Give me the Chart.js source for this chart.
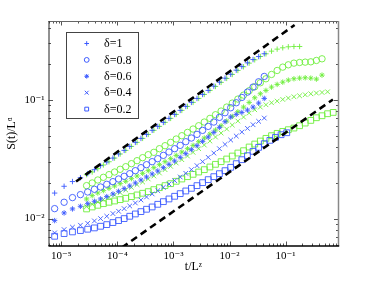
<!DOCTYPE html>
<html>
<head>
<meta charset="utf-8">
<script src="https://cdn.jsdelivr.net/npm/chart.js@4.4.0/dist/chart.umd.min.js"></script>
<style>
  html, body { margin: 0; padding: 0; background: #fff; }
  #wrap { width: 374px; height: 281px; position: relative; }
</style>
</head>
<body>
<div id="wrap"><canvas id="growthChart"></canvas></div>
<script>
Chart.defaults.font.family = '"Liberation Serif", "DejaVu Serif", serif';
Chart.defaults.color = '#000';

// t/L^z for the blue run and the green run
const tBlue = [7.59e-6, 1.12e-5, 1.58e-5, 2.19e-5, 2.95e-5, 3.89e-5, 5.01e-5, 6.46e-5, 8.32e-5, 1.05e-4,
    1.32e-4, 1.66e-4, 2.09e-4, 2.63e-4, 3.31e-4, 4.17e-4, 5.25e-4, 6.61e-4, 8.32e-4, 1.05e-3,
    1.32e-3, 1.66e-3, 2.09e-3, 2.63e-3, 3.31e-3, 4.17e-3, 5.25e-3, 6.61e-3, 8.32e-3, 1.05e-2,
    1.32e-2, 1.66e-2, 2.09e-2, 2.63e-2, 3.31e-2, 4.17e-2, 5.25e-2, 6.61e-2, 8.32e-2, 0.105];
const tGreen = [2.82e-5, 3.55e-5, 4.47e-5, 5.62e-5, 7.08e-5, 8.91e-5, 1.12e-4, 1.41e-4, 1.78e-4, 2.24e-4,
    2.82e-4, 3.55e-4, 4.47e-4, 5.62e-4, 7.08e-4, 8.91e-4, 1.12e-3, 1.41e-3, 1.78e-3, 2.24e-3,
    2.82e-3, 3.55e-3, 4.47e-3, 5.62e-3, 7.08e-3, 8.91e-3, 1.12e-2, 1.41e-2, 1.78e-2, 2.24e-2,
    2.82e-2, 3.55e-2, 4.47e-2, 5.62e-2, 7.08e-2, 8.91e-2, 0.112, 0.141, 0.178, 0.224,
    0.282, 0.355, 0.447, 0.562, 0.708];

// S(t)/L^alpha, blue markers
const sBlue1 = [0.0164, 0.0187, 0.0205, 0.0221, 0.0239, 0.0258, 0.0279, 0.0299, 0.0323, 0.0350,
    0.0375, 0.0405, 0.0438, 0.0473, 0.0511, 0.0553, 0.0597, 0.0645, 0.0697, 0.0753,
    0.0814, 0.0879, 0.0950, 0.1026, 0.1109, 0.1198, 0.1302, 0.1407, 0.152, 0.164,
    0.1775, 0.1906, 0.2046, 0.218, 0.231, 0.244];
const sBlue08 = [0.01213, 0.01372, 0.01502, 0.01591, 0.01675, 0.01764, 0.01845, 0.01943, 0.02046, 0.02154,
    0.02268, 0.02388, 0.02531, 0.02683, 0.02843, 0.03013, 0.03192, 0.03405, 0.03633, 0.03875,
    0.04133, 0.04436, 0.04764, 0.05113, 0.05525, 0.0597, 0.06492, 0.07107, 0.07777, 0.08564,
    0.09436, 0.1046, 0.116, 0.1278, 0.1417, 0.1571];
const sBlue06 = [0.00962, 0.01116, 0.01206, 0.01269, 0.01336, 0.01398, 0.01463, 0.01531, 0.01612, 0.01697,
    0.01787, 0.01882, 0.01994, 0.02113, 0.02239, 0.02373, 0.02515, 0.02683, 0.02862, 0.03052,
    0.03277, 0.03518, 0.03801, 0.04106, 0.04466, 0.04856, 0.05314, 0.05855, 0.06534, 0.07151,
    0.07531, 0.07824, 0.08188, 0.08677, 0.09375, 0.1026];
const sBlue04 = [0.00758, 0.00808, 0.00846, 0.00879, 0.00913, 0.00956, 0.0100, 0.01046, 0.01102, 0.01152,
    0.01213, 0.01277, 0.01354, 0.01435, 0.01521, 0.01612, 0.01719, 0.01833, 0.01956, 0.02087,
    0.02239, 0.02404, 0.02581, 0.02789, 0.03013, 0.03277, 0.03563, 0.03875, 0.04212, 0.04582,
    0.04951, 0.05349, 0.05742, 0.06166, 0.06577, 0.07014];
const sBlue02 = [0.0071, 0.00748, 0.00773, 0.00793, 0.00814, 0.00835, 0.00862, 0.0089, 0.00926, 0.00962,
    0.0100, 0.01046, 0.01094, 0.01145, 0.01198, 0.01253, 0.01319, 0.01389, 0.01463, 0.01541,
    0.01622, 0.01708, 0.01798, 0.01894, 0.02007, 0.02127, 0.02254, 0.02388, 0.02531, 0.02701,
    0.02899, 0.03132, 0.03383, 0.0368, 0.03976, 0.04268, 0.04552, 0.04826, 0.05081, 0.0528];

// S(t)/L^alpha, green markers
const sGreen1 = [0.02343, 0.02466, 0.0263, 0.02825, 0.0301, 0.0323, 0.03495, 0.0375, 0.0405, 0.0438,
    0.0473, 0.0511, 0.0553, 0.0597, 0.0645, 0.0697, 0.0753, 0.0814, 0.0879, 0.0950,
    0.1026, 0.1109, 0.1198, 0.1294, 0.140, 0.1511, 0.1633, 0.1764, 0.1895, 0.2032,
    0.2168, 0.2313, 0.2436, 0.2565, 0.2667, 0.2737, 0.2791, 0.2806, 0.2806];
const sGreen08 = [0.01894, 0.01994, 0.02113, 0.02225, 0.02343, 0.02466, 0.02598, 0.02735, 0.02899, 0.03072,
    0.03256, 0.0345, 0.0361, 0.03875, 0.04106, 0.0438, 0.04672, 0.04983, 0.05314, 0.0567,
    0.06047, 0.06492, 0.06969, 0.07482, 0.08032, 0.08677, 0.09375, 0.1013, 0.1094, 0.119,
    0.1286, 0.139, 0.1502, 0.1633, 0.1764, 0.1882, 0.1968, 0.2033, 0.2059, 0.2073,
    0.2086, 0.2141, 0.2211];
const sGreen06 = [0.01463, 0.01561, 0.01643, 0.01719, 0.01798, 0.01882, 0.01968, 0.0206, 0.02168, 0.02283,
    0.02404, 0.02531, 0.02683, 0.02843, 0.03013, 0.03192, 0.03405, 0.03633, 0.03875, 0.04133,
    0.04436, 0.04764, 0.05147, 0.05561, 0.06047, 0.06619, 0.07244, 0.07929, 0.08677, 0.09497,
    0.1039, 0.1123, 0.1198, 0.1278, 0.1346, 0.1407, 0.1463, 0.1502, 0.152, 0.1531,
    0.152, 0.1492, 0.1612];
const sGreen04 = [0.01261, 0.01319, 0.0138, 0.01444, 0.01511, 0.01581, 0.01654, 0.01741, 0.01833, 0.01931,
    0.02033, 0.02154, 0.02283, 0.02419, 0.02581, 0.02753, 0.02937, 0.03132, 0.03361, 0.0361,
    0.03875, 0.04159, 0.04494, 0.04856, 0.05247, 0.0567, 0.06127, 0.06619, 0.07151, 0.07727,
    0.08241, 0.08677, 0.09078, 0.09436, 0.09745, 0.1006, 0.1033, 0.106, 0.108, 0.1102,
    0.1123, 0.1138, 0.1152, 0.1167];
const sGreen02 = [0.01206, 0.01253, 0.01294, 0.01336, 0.01372, 0.01407, 0.01444, 0.01482, 0.01531, 0.01581,
    0.01633, 0.01686, 0.01753, 0.01821, 0.01894, 0.01968, 0.0206, 0.02154, 0.02254, 0.02358,
    0.02466, 0.02581, 0.02718, 0.02862, 0.03013, 0.03172, 0.03361, 0.03563, 0.03727, 0.04002,
    0.0424, 0.04494, 0.04733, 0.04983, 0.05214, 0.05418, 0.05597, 0.0578, 0.06047, 0.06366,
    0.06703, 0.07058, 0.07337, 0.07629, 0.07824];

// dashed reference lines, two end points each
const guideUpperT = [1.83e-5, 0.145];
const guideUpperS = [0.0205, 0.426];
const guideLowerT = [1.2e-4, 0.70];
const guideLowerS = [0.0057, 0.1005];

const deltaLabels = ['δ=1', 'δ=0.8', 'δ=0.6', 'δ=0.4', 'δ=0.2'];
const xTickValues = [1e-5, 1e-4, 1e-3, 1e-2, 1e-1];
const xTickText = ['10⁻⁵', '10⁻⁴', '10⁻³', '10⁻²', '10⁻¹'];
const yTickValues = [1e-2, 1e-1];
const yTickText = ['10⁻²', '10⁻¹'];

const X_MIN = 5.9e-6, X_MAX = 0.88;
const Y_MIN = 0.00588, Y_MAX = 0.46;

const BLUE = 'rgb(60, 90, 255)';
const GREEN = 'rgb(110, 238, 60)';
const markerStyles = ['cross', 'circle', 'star', 'crossRot', 'rect'];
const markerRadius = [2.7, 3.2, 2.7, 3.3, 4.1];
const legendRadius = [2.3, 2.4, 2.3, 2.7, 2.7];

const pairs = (ts, ss) => ss.map((s, i) => ({x: ts[i], y: s}));
const isDecade = v => Math.abs(Math.log10(v) - Math.round(Math.log10(v))) < 1e-6;
const labelFor = (vals, texts) => v => {
    const i = vals.findIndex(t => Math.abs(t - v) / t < 1e-6);
    return i >= 0 ? texts[i] : '';
};
// 1..9 x 10^n inside the axis range
const decadeTicks = (min, max) => {
    const out = [];
    for (let e = Math.floor(Math.log10(min)); e <= Math.ceil(Math.log10(max)); e++) {
        for (let m = 1; m <= 9; m++) {
            const v = m * Math.pow(10, e);
            if (v >= min && v <= max) out.push({value: v});
        }
    }
    return out;
};

const markerSet = (t, s, i, color, inLegend) => ({
    label: deltaLabels[i],
    data: pairs(t, s),
    pointStyle: markerStyles[i],
    pointRadius: markerRadius[i],
    pointHoverRadius: markerRadius[i],
    pointBorderWidth: 0.9,
    borderColor: color,
    pointBorderColor: color,
    pointBackgroundColor: 'rgba(0,0,0,0)',
    backgroundColor: 'rgba(0,0,0,0)',
    showLine: false,
    inLegend
});

const guideSet = (t, s) => ({
    data: pairs(t, s),
    showLine: true,
    borderColor: '#000',
    borderWidth: 2.6,
    borderDash: [7, 4.5],
    pointRadius: 0,
    clip: 0
});

const blueSeries = [sBlue1, sBlue08, sBlue06, sBlue04, sBlue02];
const greenSeries = [sGreen1, sGreen08, sGreen06, sGreen04, sGreen02];

// box and inward tick marks, like the MATLAB axes
const frame = {
    id: 'frame',
    afterDatasetsDraw(chart) {
        const {ctx, chartArea: a, scales: {x, y}} = chart;
        ctx.save();
        ctx.lineWidth = 1;
        ctx.strokeStyle = '#555';
        ctx.beginPath();
        x.ticks.forEach(t => {
            const px = Math.round(x.getPixelForValue(t.value)) + 0.5;
            const len = isDecade(t.value) ? 4.5 : 2.5;
            ctx.moveTo(px, a.bottom); ctx.lineTo(px, a.bottom - len);
            ctx.moveTo(px, a.top); ctx.lineTo(px, a.top + len);
        });
        y.ticks.forEach(t => {
            const py = Math.round(y.getPixelForValue(t.value)) + 0.5;
            const len = isDecade(t.value) ? 4.5 : 2.5;
            ctx.moveTo(a.left, py); ctx.lineTo(a.left + len, py);
            ctx.moveTo(a.right, py); ctx.lineTo(a.right - len, py);
        });
        ctx.stroke();

        ctx.strokeStyle = '#666';
        ctx.beginPath(); ctx.moveTo(a.left, a.top + 0.5); ctx.lineTo(a.right, a.top + 0.5); ctx.stroke();
        ctx.strokeStyle = '#888';
        ctx.lineWidth = 1.5;
        ctx.beginPath(); ctx.moveTo(a.right, a.top); ctx.lineTo(a.right, a.bottom); ctx.stroke();
        ctx.strokeStyle = '#222';
        ctx.lineWidth = 1;
        ctx.beginPath(); ctx.moveTo(a.left + 0.5, a.top); ctx.lineTo(a.left + 0.5, a.bottom); ctx.stroke();
        ctx.strokeStyle = '#000';
        ctx.lineWidth = 1.5;
        ctx.beginPath(); ctx.moveTo(a.left, a.bottom); ctx.lineTo(a.right + 0.7, a.bottom); ctx.stroke();
        ctx.restore();
    }
};

// boxed legend in the upper left corner, blue markers only
const markerLegend = {
    id: 'markerLegend',
    afterDraw(chart) {
        const {ctx} = chart;
        const items = chart.data.datasets.filter(d => d.inLegend);
        ctx.save();
        ctx.fillStyle = '#fff';
        ctx.fillRect(66.5, 32.5, 72, 86);
        ctx.strokeStyle = '#444';
        ctx.lineWidth = 1;
        ctx.strokeRect(66.5, 32.5, 72, 86);
        ctx.font = '12px "Liberation Serif", serif';
        ctx.textBaseline = 'middle';
        items.forEach((d, i) => {
            const yy = 43.5 + i * 16.4;
            ctx.strokeStyle = d.borderColor;
            ctx.fillStyle = 'rgba(0,0,0,0)';
            ctx.lineWidth = 1;
            Chart.helpers.drawPoint(ctx, {pointStyle: d.pointStyle, radius: legendRadius[i], borderWidth: 1, rotation: 0}, 86.7, yy);
            ctx.fillStyle = '#000';
            ctx.fillText(d.label, 104, yy + 0.5);
        });
        ctx.restore();
    }
};

new Chart(document.getElementById('growthChart'), {
    type: 'scatter',
    data: {
        datasets: [
            guideSet(guideUpperT, guideUpperS),
            guideSet(guideLowerT, guideLowerS),
            ...blueSeries.map((s, i) => markerSet(tBlue, s, i, BLUE, true)),
            ...greenSeries.map((s, i) => markerSet(tGreen, s, i, GREEN, false))
        ]
    },
    options: {
        responsive: true,
        maintainAspectRatio: false,
        animation: false,
        layout: { padding: { left: 0, top: 21, right: 35.5, bottom: 0 } },
        plugins: {
            legend: { display: false },
            tooltip: { enabled: false }
        },
        scales: {
            x: {
                type: 'logarithmic',
                min: X_MIN,
                max: X_MAX,
                afterBuildTicks: s => { s.ticks = decadeTicks(s.min, s.max); },
                afterFit: s => { s.height = 35; },
                grid: { display: false, drawTicks: false },
                border: { display: false },
                ticks: {
                    autoSkip: false, maxRotation: 0, padding: 4,
                    font: { size: 11 },
                    callback: labelFor(xTickValues, xTickText)
                },
                title: { display: true, text: 't/Lᶻ', font: { size: 12 }, padding: { top: 0, bottom: 7 } }
            },
            y: {
                type: 'logarithmic',
                min: Y_MIN,
                max: Y_MAX,
                afterBuildTicks: s => { s.ticks = decadeTicks(s.min, s.max); },
                afterFit: s => { s.width = 48.5; },
                grid: { display: false, drawTicks: false },
                border: { display: false },
                ticks: {
                    autoSkip: false, padding: 4,
                    font: { size: 11 },
                    callback: labelFor(yTickValues, yTickText)
                },
                title: { display: true, text: 'S(t)/Lᵅ', font: { size: 12 }, padding: { top: 5, bottom: 0 } }
            }
        }
    },
    plugins: [frame, markerLegend]
});
</script>
</body>
</html>
